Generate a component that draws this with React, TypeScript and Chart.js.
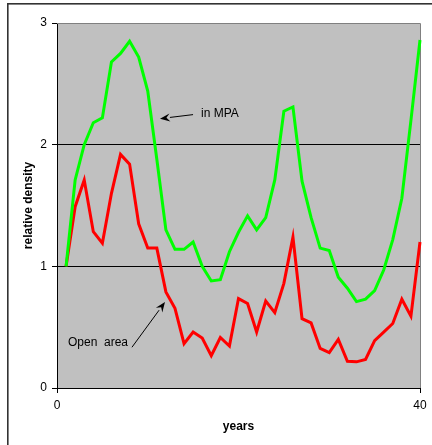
import React, { useEffect, useRef } from "react";
import { Chart, registerables } from "chart.js";

Chart.register(...registerables);

// ---- data ----
const years = [1, 2, 3, 4, 5, 6, 7, 8, 9, 10, 11, 12, 13, 14, 15, 16, 17, 18, 19, 20, 21, 22, 23, 24, 25, 26, 27, 28, 29, 30, 31, 32, 33, 34, 35, 36, 37, 38, 39, 40];
const inMPA = [1.0, 1.71, 2.0, 2.18, 2.22, 2.68, 2.75, 2.85, 2.72, 2.44, 1.88, 1.3, 1.14, 1.14, 1.2, 1.0, 0.88, 0.89, 1.12, 1.28, 1.415, 1.3, 1.4, 1.71, 2.275, 2.31, 1.7, 1.4, 1.15, 1.13, 0.91, 0.82, 0.71, 0.73, 0.8, 0.97, 1.22, 1.56, 2.2, 2.86];
const openArea = [1.0, 1.49, 1.71, 1.285, 1.19, 1.6, 1.92, 1.84, 1.35, 1.15, 1.15, 0.79, 0.655, 0.365, 0.46, 0.41, 0.265, 0.415, 0.345, 0.735, 0.695, 0.46, 0.715, 0.62, 0.86, 1.24, 0.57, 0.535, 0.325, 0.29, 0.4, 0.22, 0.215, 0.235, 0.39, 0.46, 0.53, 0.73, 0.59, 1.2];
const xTicks = [0, 40];
const yTicks = [0, 1, 2, 3];
const xTitle = "years";
const yTitle = "relative density";

// annotation labels with arrows (data coordinates)
const annotationLabels = [
  { text: "in MPA", textAt: [15.87, 2.255], from: [14.99, 2.247], to: [11.35, 2.214] },
  { text: "Open  area", textAt: [1.21, 0.376], from: [8.26, 0.335], to: [11.9, 0.706] },
];

const FONT = "'Liberation Sans', Arial, sans-serif";

const framePlugin = {
  id: "frame",
  beforeDraw(chart: any) {
    const { ctx, chartArea } = chart;
    ctx.save();
    ctx.fillStyle = "#c0c0c0";
    ctx.fillRect(chartArea.left, chartArea.top, chartArea.right - chartArea.left, chartArea.bottom - chartArea.top);
    // outer frame (top and left)
    ctx.fillStyle = "#333333";
    ctx.fillRect(7, 3, chart.width - 7, 1.6);
    ctx.fillRect(7, 3, 1.6, chart.height - 3);
    ctx.restore();
  },
  beforeDatasetsDraw(chart: any) {
    const { ctx, chartArea } = chart;
    ctx.save();
    ctx.strokeStyle = "#808080";
    ctx.lineWidth = 1;
    ctx.beginPath();
    const r = Math.round(chartArea.right) + 0.5;
    const t = Math.round(chartArea.top) + 0.5;
    ctx.moveTo(chartArea.left, t);
    ctx.lineTo(r, t);
    ctx.lineTo(r, chartArea.bottom);
    ctx.stroke();
    ctx.restore();
  },
  afterDatasetsDraw(chart: any) {
    const { ctx } = chart;
    const xs = chart.scales.x;
    const ys = chart.scales.y;
    ctx.save();
    ctx.fillStyle = "#000";
    ctx.strokeStyle = "#000";
    ctx.font = `12px ${FONT}`;
    ctx.textAlign = "left";
    ctx.textBaseline = "middle";
    for (const a of annotationLabels) {
      const tx = xs.getPixelForValue(a.textAt[0]);
      const ty = ys.getPixelForValue(a.textAt[1]);
      ctx.fillText(a.text, tx, ty);
      const x1 = xs.getPixelForValue(a.from[0]);
      const y1 = ys.getPixelForValue(a.from[1]);
      const x2 = xs.getPixelForValue(a.to[0]);
      const y2 = ys.getPixelForValue(a.to[1]);
      const ang = Math.atan2(y2 - y1, x2 - x1);
      const len = 10;
      const hw = 4;
      const bx = x2 - len * Math.cos(ang);
      const by = y2 - len * Math.sin(ang);
      ctx.lineWidth = 1;
      ctx.beginPath();
      ctx.moveTo(x1, y1);
      ctx.lineTo(bx, by);
      ctx.stroke();
      ctx.beginPath();
      ctx.moveTo(x2, y2);
      ctx.lineTo(bx + hw * Math.sin(ang), by - hw * Math.cos(ang));
      ctx.lineTo(bx + 0.35 * len * Math.cos(ang), by + 0.35 * len * Math.sin(ang));
      ctx.lineTo(bx - hw * Math.sin(ang), by + hw * Math.cos(ang));
      ctx.closePath();
      ctx.fill();
    }
    ctx.restore();
  },
};

export default function App() {
  const canvasRef = useRef<HTMLCanvasElement | null>(null);

  useEffect(() => {
    if (!canvasRef.current) return;
    Chart.defaults.font.family = FONT;
    const chart = new Chart(canvasRef.current, {
      type: "line",
      data: {
        datasets: [
          {
            label: "in MPA",
            data: years.map((x, i) => ({ x, y: inMPA[i] })),
            borderColor: "#00ff00",
            borderWidth: 3,
            pointRadius: 0,
            tension: 0,
            fill: false,
            clip: 4,
            order: 0,
          },
          {
            label: "Open area",
            data: years.map((x, i) => ({ x, y: openArea[i] })),
            borderColor: "#ff0000",
            borderWidth: 3,
            pointRadius: 0,
            tension: 0,
            fill: false,
            clip: 4,
            order: 1,
          },
        ],
      },
      options: {
        animation: false,
        responsive: true,
        maintainAspectRatio: false,
        layout: { padding: { left: 0, top: 23, right: 12, bottom: 0 } },
        plugins: { legend: { display: false }, tooltip: { enabled: false } },
        scales: {
          x: {
            type: "linear",
            min: 0,
            max: 40,
            afterBuildTicks: (s: any) => {
              s.ticks = xTicks.map((v) => ({ value: v }));
            },
            afterFit: (s: any) => {
              s.height = 57;
            },
            ticks: { color: "#000", font: { size: 12 }, padding: 5, maxRotation: 0 },
            grid: { drawOnChartArea: false, color: "#000", tickColor: "#000", tickLength: 5 },
            border: { color: "#000", width: 1 },
            title: { display: true, text: xTitle, color: "#000", font: { size: 12, weight: "bold" }, padding: { top: 0, bottom: 11 } },
          },
          y: {
            type: "linear",
            min: 0,
            max: 3,
            afterBuildTicks: (s: any) => {
              s.ticks = yTicks.map((v) => ({ value: v }));
            },
            afterFit: (s: any) => {
              s.width = 57;
            },
            ticks: { color: "#000", font: { size: 12 }, padding: 5 },
            grid: {
              color: (c: any) => (c.tick && c.tick.value === 3 ? "#808080" : "#000"),
              tickColor: "#000",
              tickLength: 5,
              lineWidth: 1,
            },
            border: { color: "#000", width: 1 },
            title: { display: true, text: yTitle, color: "#000", font: { size: 12, weight: "bold" }, padding: { top: 21, bottom: 0 } },
          },
        },
      },
      plugins: [framePlugin],
    } as any);
    return () => chart.destroy();
  }, []);

  return (
    <div style={{ position: "absolute", left: 0, top: 0, width: 432, height: 445 }}>
      <canvas ref={canvasRef} />
    </div>
  );
}
